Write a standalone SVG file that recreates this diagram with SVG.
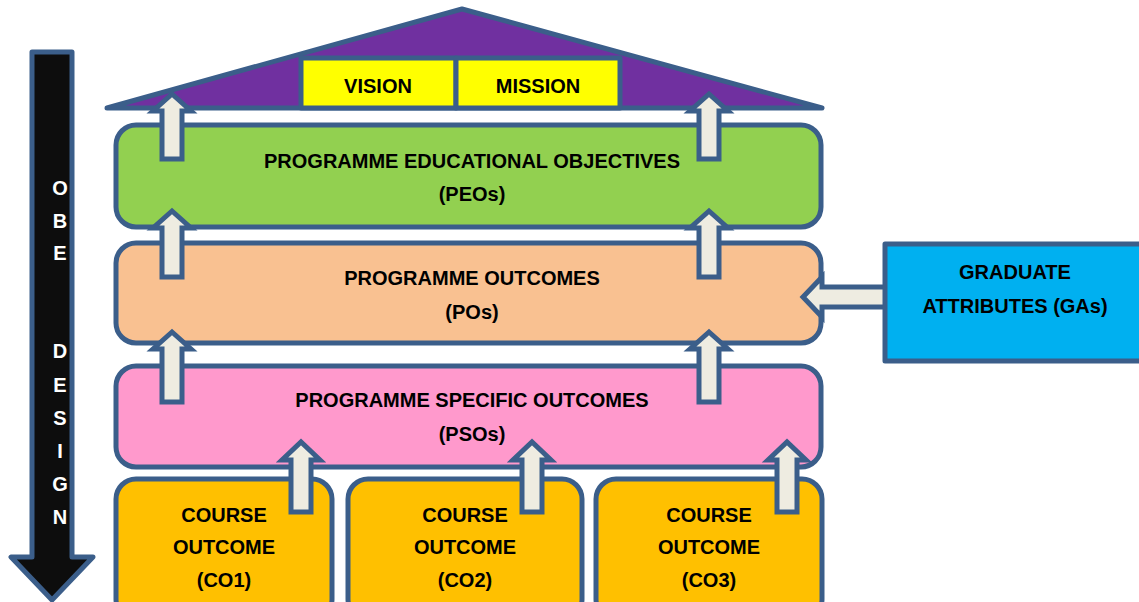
<svg xmlns="http://www.w3.org/2000/svg" width="1139" height="602" viewBox="0 0 1139 602">
<style>
.b{stroke:#3b5e8a;stroke-width:5;stroke-linejoin:round}
.t{font-family:"Liberation Sans",Arial,sans-serif;font-weight:bold;font-size:20px;fill:#000;text-anchor:middle}
.w{font-family:"Liberation Sans",Arial,sans-serif;font-weight:bold;font-size:20px;fill:#fff;text-anchor:middle}
.a{fill:#eeece1;stroke:#3b5e8a;stroke-width:5;stroke-linejoin:miter}
</style>
<rect width="1139" height="602" fill="#fff"/>
<g id="obe-design">
<path class="b" d="M32,52 L72,52 L72,557 L93,557 L52,600 L11,557 L32,557 Z" fill="#0d0d0d"/>
<text class="w" x="60" y="195">O</text>
<text class="w" x="60" y="228">B</text>
<text class="w" x="60" y="260">E</text>
<text class="w" x="60" y="358">D</text>
<text class="w" x="60" y="392">E</text>
<text class="w" x="60" y="425">S</text>
<text class="w" x="60" y="458">I</text>
<text class="w" x="60" y="491">G</text>
<text class="w" x="60" y="524">N</text>
</g>
<g id="roof">
<path class="b" d="M107,108 L462,9 L822,108 Z" fill="#7030a0"/>
</g>
<g id="vision">
<rect class="b" x="301" y="58" width="155" height="50" fill="#ffff00"/>
<text class="t" x="378" y="93">VISION</text>
</g>
<g id="mission">
<rect class="b" x="456" y="58" width="164" height="50" fill="#ffff00"/>
<text class="t" x="538" y="93">MISSION</text>
</g>
<g id="peo">
<rect class="b" x="116" y="125" width="705" height="102" rx="20" fill="#92d050"/>
<text class="t" x="472" y="168">PROGRAMME EDUCATIONAL OBJECTIVES</text>
<text class="t" x="472" y="201">(PEOs)</text>
</g>
<g id="po">
<rect class="b" x="116" y="243" width="705" height="100" rx="20" fill="#f9c191"/>
<text class="t" x="472" y="285">PROGRAMME OUTCOMES</text>
<text class="t" x="472" y="319">(POs)</text>
</g>
<g id="pso">
<rect class="b" x="116" y="366" width="705" height="101" rx="20" fill="#ff99cc"/>
<text class="t" x="472" y="407">PROGRAMME SPECIFIC OUTCOMES</text>
<text class="t" x="472" y="441">(PSOs)</text>
</g>
<g id="co1">
<rect class="b" x="116" y="479" width="216" height="140" rx="20" fill="#ffc000"/>
<text class="t" x="224" y="522">COURSE</text>
<text class="t" x="224" y="554">OUTCOME</text>
<text class="t" x="224" y="587">(CO1)</text>
</g>
<g id="co2">
<rect class="b" x="348" y="479" width="234" height="140" rx="20" fill="#ffc000"/>
<text class="t" x="465" y="522">COURSE</text>
<text class="t" x="465" y="554">OUTCOME</text>
<text class="t" x="465" y="587">(CO2)</text>
</g>
<g id="co3">
<rect class="b" x="596" y="479" width="226" height="140" rx="20" fill="#ffc000"/>
<text class="t" x="709" y="522">COURSE</text>
<text class="t" x="709" y="554">OUTCOME</text>
<text class="t" x="709" y="587">(CO3)</text>
</g>
<g id="connectors">
<path class="a" d="M162,159 L162,111 L153,111 L172,94 L191,111 L182,111 L182,159 Z"/>
<path class="a" d="M699,159 L699,111 L690,111 L709,94 L728,111 L719,111 L719,159 Z"/>
<path class="a" d="M162,277 L162,228 L153,228 L172,211 L191,228 L182,228 L182,277 Z"/>
<path class="a" d="M699,277 L699,228 L690,228 L709,211 L728,228 L719,228 L719,277 Z"/>
<path class="a" d="M162,402 L162,349 L153,349 L172,332 L191,349 L182,349 L182,402 Z"/>
<path class="a" d="M699,402 L699,349 L690,349 L709,332 L728,349 L719,349 L719,402 Z"/>
<path class="a" d="M291,512 L291,460 L282,460 L301,442 L320,460 L311,460 L311,512 Z"/>
<path class="a" d="M522,512 L522,460 L513,460 L532,442 L551,460 L542,460 L542,512 Z"/>
<path class="a" d="M777,512 L777,460 L768,460 L787,442 L806,460 L797,460 L797,512 Z"/>
<path class="a" d="M886,287 L822,287 L822,277 L803,297 L822,317 L822,307 L886,307 Z"/>
</g>
<g id="ga">
<rect class="b" x="885" y="244" width="260" height="117" fill="#00b0f0"/>
<text class="t" x="1015" y="279">GRADUATE</text>
<text class="t" x="1015" y="313">ATTRIBUTES (GAs)</text>
</g>
</svg>
